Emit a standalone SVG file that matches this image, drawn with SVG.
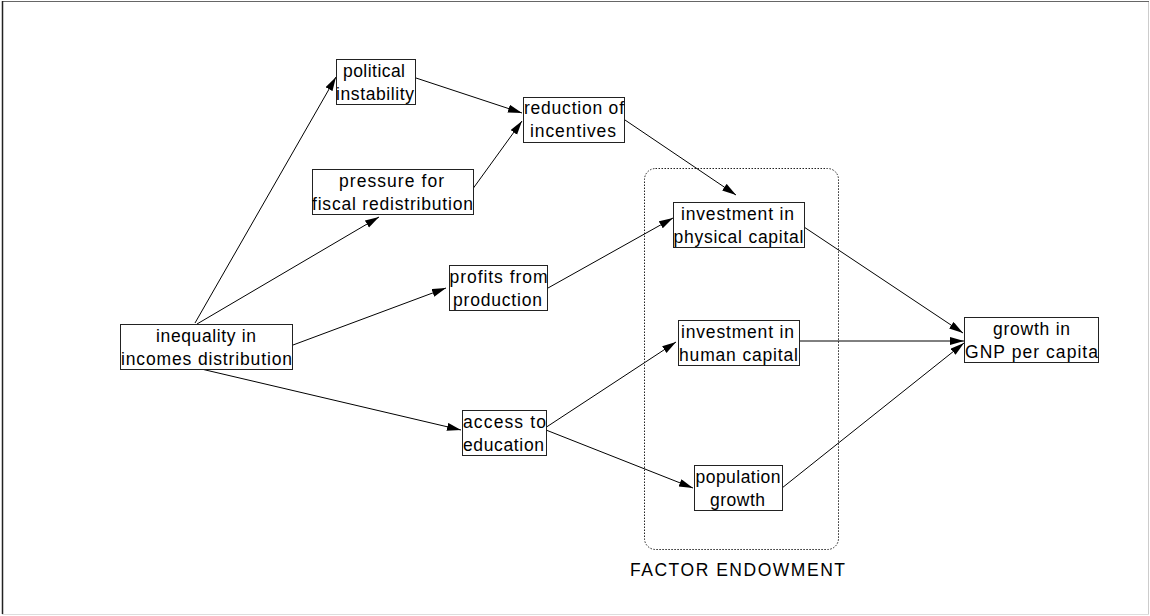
<svg xmlns="http://www.w3.org/2000/svg" width="1150" height="616" viewBox="0 0 1150 616">
<defs>
<marker id="arr" markerWidth="15" markerHeight="9" refX="14" refY="4" orient="auto" markerUnits="userSpaceOnUse">
<path d="M0,0 L14,4 L0,8 z" fill="#000"/>
</marker>
<style>
.box{fill:#fff;stroke:#222;stroke-width:1}
.t{font-family:"Liberation Sans",Arial,sans-serif;font-size:17.5px;fill:#000}
.c{stroke:#000;stroke-width:1;fill:none;marker-end:url(#arr)}
</style>
</defs>
<rect x="0" y="0" width="1150" height="616" fill="#fff"/>
<g id="frame" fill="none">
<line x1="2" y1="1.5" x2="1149" y2="1.5" stroke="#666"/>
<line x1="2.5" y1="1" x2="2.5" y2="614" stroke="#222" stroke-width="1.5"/>
<line x1="1148.5" y1="2" x2="1148.5" y2="614" stroke="#ccc"/>
<line x1="2" y1="614.5" x2="1149" y2="614.5" stroke="#ddd"/>
</g>
<g id="factor-endowment">
<rect x="644.5" y="168.5" width="194" height="381" rx="11" ry="11" fill="none" stroke="#222" stroke-width="1" stroke-dasharray="1.5,1.5"/>
<text class="t" x="630" y="576" textLength="215" lengthAdjust="spacing">FACTOR ENDOWMENT</text>
</g>
<g id="connectors">
<line class="c" x1="195" y1="323" x2="336" y2="77"/>
<line class="c" x1="197" y1="324" x2="379" y2="217"/>
<line class="c" x1="293" y1="345" x2="446" y2="288"/>
<line class="c" x1="197" y1="368" x2="461" y2="430"/>
<line class="c" x1="416" y1="78" x2="522" y2="113"/>
<line class="c" x1="472" y1="190" x2="522" y2="121"/>
<line class="c" x1="625" y1="120" x2="736" y2="195"/>
<line class="c" x1="548" y1="288" x2="673" y2="218"/>
<line class="c" x1="545" y1="428" x2="676" y2="342"/>
<line class="c" x1="546" y1="430" x2="693" y2="488"/>
<line class="c" x1="804" y1="227" x2="963" y2="333"/>
<line class="c" x1="799" y1="341" x2="964" y2="341"/>
<line class="c" x1="782" y1="488" x2="964" y2="343"/>
</g>
<g id="political-instability">
<rect class="box" x="336.5" y="59.5" width="79" height="45"/>
<text class="t" x="343" y="77" textLength="62" lengthAdjust="spacing">political</text>
<text class="t" x="336" y="100" textLength="78" lengthAdjust="spacing">instability</text>
</g>
<g id="reduction-of-incentives">
<rect class="box" x="523.5" y="97.5" width="101" height="45"/>
<text class="t" x="524" y="114" textLength="100" lengthAdjust="spacing">reduction of</text>
<text class="t" x="530" y="137" textLength="86" lengthAdjust="spacing">incentives</text>
</g>
<g id="pressure-for-fiscal-redistribution">
<rect class="box" x="312.5" y="169.5" width="161" height="45"/>
<text class="t" x="339" y="187" textLength="105" lengthAdjust="spacing">pressure for</text>
<text class="t" x="312" y="210" textLength="161" lengthAdjust="spacing">fiscal redistribution</text>
</g>
<g id="inequality-in-incomes-distribution">
<rect class="box" x="120.5" y="324.5" width="172" height="45"/>
<text class="t" x="156" y="342" textLength="100" lengthAdjust="spacing">inequality in</text>
<text class="t" x="121" y="365" textLength="171" lengthAdjust="spacing">incomes distribution</text>
</g>
<g id="profits-from-production">
<rect class="box" x="449.5" y="265.5" width="98" height="45"/>
<text class="t" x="449.5" y="283" textLength="98" lengthAdjust="spacing">profits from</text>
<text class="t" x="453" y="306" textLength="89" lengthAdjust="spacing">production</text>
</g>
<g id="access-to-education">
<rect class="box" x="462.5" y="410.5" width="84" height="45"/>
<text class="t" x="463" y="428" textLength="83" lengthAdjust="spacing">access to</text>
<text class="t" x="463" y="451" textLength="81" lengthAdjust="spacing">education</text>
</g>
<g id="investment-in-physical-capital">
<rect class="box" x="673.5" y="202.5" width="131" height="45"/>
<text class="t" x="681" y="220" textLength="113" lengthAdjust="spacing">investment in</text>
<text class="t" x="673.5" y="243" textLength="130" lengthAdjust="spacing">physical capital</text>
</g>
<g id="investment-in-human-capital">
<rect class="box" x="678.5" y="320.5" width="121" height="45"/>
<text class="t" x="681" y="338" textLength="113" lengthAdjust="spacing">investment in</text>
<text class="t" x="679" y="361" textLength="119" lengthAdjust="spacing">human capital</text>
</g>
<g id="population-growth">
<rect class="box" x="694.5" y="465.5" width="88" height="45"/>
<text class="t" x="695.5" y="483" textLength="85" lengthAdjust="spacing">population</text>
<text class="t" x="710" y="506" textLength="55" lengthAdjust="spacing">growth</text>
</g>
<g id="growth-in-gnp-per-capita">
<rect class="box" x="964.5" y="317.5" width="134" height="45"/>
<text class="t" x="993" y="335" textLength="77" lengthAdjust="spacing">growth in</text>
<text class="t" x="965" y="358" textLength="133" lengthAdjust="spacing">GNP per capita</text>
</g>
</svg>
